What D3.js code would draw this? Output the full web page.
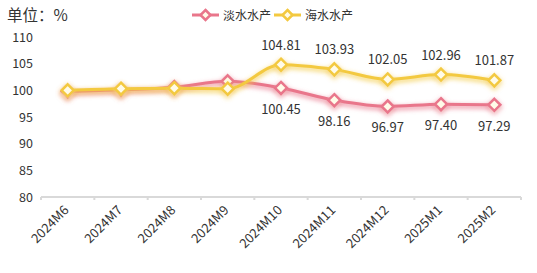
<!DOCTYPE html>
<html>
<head>
<meta charset="utf-8">
<script src="https://cdn.jsdelivr.net/npm/d3@7"></script>
<style>
  body { margin: 0; background: #fff; }
  text { font-family: "Microsoft YaHei", "Noto Sans CJK SC", "Noto Sans", sans-serif; }
</style>
</head>
<body>
<div id="chart"></div>
<script>
// data
var months = ['2024M6','2024M7','2024M8','2024M9','2024M10','2024M11','2024M12','2025M1','2025M2']
var fresh = [99.8, 100.1, 100.6, 101.7, 100.45, 98.16, 96.97, 97.40, 97.29]
var sea = [100.0, 100.3, 100.4, 100.3, 104.81, 103.93, 102.05, 102.96, 101.87]
var yTicks = [80, 85, 90, 95, 100, 105, 110]
var names = ['淡水水产', '海水水产']
var labelFrom = 4 // labels only shown from 2024M10 on

var W = 537, H = 273
var colFresh = '#e9768b', colSea = '#f3c940'

var svg = d3.select('#chart').append('svg')
    .attr('width', W)
    .attr('height', H)

var defs = svg.append('defs')
var f = defs.append('filter').attr('id', 'glow')
    .attr('x', '-10%').attr('y', '-50%').attr('width', '120%').attr('height', '200%')
f.append('feGaussianBlur').attr('in', 'SourceGraphic').attr('stdDeviation', 2.5).attr('result', 'b')
f.append('feOffset').attr('in', 'b').attr('dy', 2).attr('result', 'o')
var fm = f.append('feMerge')
fm.append('feMergeNode').attr('in', 'o')
fm.append('feMergeNode').attr('in', 'SourceGraphic')

var x = d3.scaleBand().domain(months).range([41, 521])
var y = d3.scaleLinear().domain([80, 110]).range([197, 37])

// unit title
svg.append('text')
  .attr('x', 7).attr('y', 20.5)
  .attr('font-size', 15.5).attr('fill', '#333')
  .text('单位：%')

// y labels (no grid lines)
svg.selectAll('.ylab').data(yTicks).enter().append('text')
  .attr('x', 33).attr('y', function(d) { return y(d) + 4.5 })
  .attr('text-anchor', 'end')
  .attr('font-size', 12.5).attr('fill', '#333')
  .text(function(d) { return d })

// x axis
var xa = svg.append('g').attr('transform', 'translate(0,197)')
xa.append('line').attr('x1', 41).attr('x2', 521).attr('stroke', '#d9d9d9').attr('stroke-width', 2)
var tickPos = months.map(function(m) { return x(m) }).concat([x.range()[1]])
xa.selectAll('.tk').data(tickPos).enter().append('line')
  .attr('x1', function(d) { return d }).attr('x2', function(d) { return d })
  .attr('y1', 0).attr('y2', 3)
  .attr('stroke', '#d9d9d9').attr('stroke-width', 2)
xa.selectAll('.xl').data(months).enter().append('text')
  .attr('transform', function(d) {
    return 'translate(' + (x(d) + x.bandwidth() / 2 + 2) + ',14) rotate(-45)'
  })
  .attr('text-anchor', 'end')
  .attr('font-size', 13).attr('fill', '#333')
  .text(function(d) { return d })

var cx = function(i) { return x(months[i]) + x.bandwidth() / 2 }
var line = d3.line()
  .x(function(d, i) { return cx(i) })
  .y(function(d) { return y(d) })
  .curve(d3.curveMonotoneX)

function diamond(g, px, py, col, r) {
  g.append('path')
    .attr('d', 'M' + px + ',' + (py - r) + 'L' + (px + r) + ',' + py + 'L' + px + ',' + (py + r) + 'L' + (px - r) + ',' + py + 'Z')
    .attr('fill', '#fffbe8')
    .attr('stroke', col)
    .attr('stroke-width', 2.5)
}

function series(vals, col, above) {
  var g = svg.append('g')
  g.append('path')
    .attr('d', line(vals))
    .attr('fill', 'none')
    .attr('stroke', col)
    .attr('stroke-width', 3)
    .attr('filter', 'url(#glow)')
  var mg = g.append('g').attr('filter', 'url(#glow)')
  for (var i in vals) {
    diamond(mg, cx(+i), y(vals[i]), col, 6)
  }
  for (var i = labelFrom; i < vals.length; i++) {
    g.append('text')
      .attr('x', cx(i))
      .attr('y', above ? y(vals[i]) - 15 : y(vals[i]) + 26)
      .attr('text-anchor', 'middle')
      .attr('font-size', 13).attr('fill', '#333')
      .text(vals[i].toFixed(2))
  }
}

series(fresh, colFresh, false)
series(sea, colSea, true)

// legend
var leg = [{ name: names[0], col: colFresh, x: 192 }, { name: names[1], col: colSea, x: 274 }]
leg.forEach(function(l) {
  svg.append('line')
    .attr('x1', l.x).attr('x2', l.x + 27)
    .attr('y1', 15).attr('y2', 15)
    .attr('stroke', l.col).attr('stroke-width', 3)
  diamond(svg, l.x + 13.5, 15, l.col, 5)
  svg.append('text')
    .attr('x', l.x + 31).attr('y', 19.5)
    .attr('font-size', 12).attr('fill', '#333')
    .text(l.name)
})
</script>
</body>
</html>
